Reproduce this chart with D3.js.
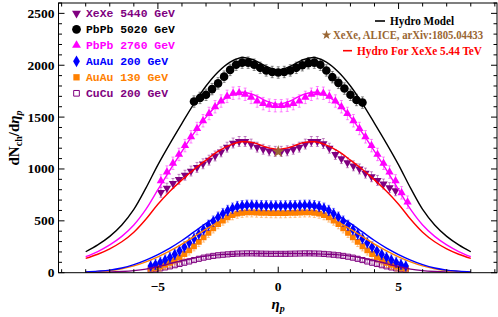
<!DOCTYPE html>
<html><head><meta charset="utf-8">
<script src="https://cdn.jsdelivr.net/npm/d3@7"></script>
<style>body{margin:0;background:#fff}svg{display:block}</style>
</head><body>
<svg id="c" width="498" height="317"></svg>
<script>
// ---------------- DATA ----------------
const etaHydro = [-8,-7.5,-7,-6.5,-6,-5.5,-5,-4.5,-4,-3.5,-3,-2.5,-2,-1.5,-1,-0.5,0,0.5,1,1.5,2,2.5,3,3.5,4,4.5,5,5.5,6,6.5,7,7.5,8];
const hydroPbPb5020 = [202,268,350,460,610,815,1040,1245,1440,1630,1800,1935,2030,2075,2050,1990,1955,1990,2050,2075,2030,1935,1800,1630,1440,1245,1040,815,610,460,350,268,202];
const hydroPbPb2760 = [154,204,268,350,460,610,800,990,1170,1345,1500,1625,1708,1740,1715,1655,1625,1655,1715,1740,1708,1625,1500,1345,1170,990,800,610,460,350,268,204,154];
const hydroXeXe5440 = [138,178,230,298,390,515,660,785,895,995,1085,1170,1230,1262,1252,1210,1190,1210,1252,1262,1230,1170,1085,995,895,785,660,515,390,298,230,178,138];
const hydroAuAu200  = [8,15,25,45,78,122,175,237,310,393,475,545,600,630,645,648,650,648,645,630,600,545,475,393,310,237,175,122,78,45,25,15,8];
const hydroAuAu130  = [6,12,21,38,66,105,153,210,275,348,420,485,535,565,578,582,583,582,578,565,535,485,420,348,275,210,153,105,66,38,21,12,6];
const hydroCuCu200  = [2,4,7,12,20,34,57,88,118,142,160,172,178,182,184,185,186,185,184,182,178,172,160,142,118,88,57,34,20,12,7,4,2];

const etaPbPb5020 = [-3.5,-3.25,-3,-2.75,-2.5,-2.25,-2,-1.75,-1.5,-1.25,-1,-0.75,-0.5,-0.25,0,0.25,0.5,0.75,1,1.25,1.5,1.75,2,2.25,2.5,2.75,3,3.25,3.5];
const valPbPb5020 = [1650,1685,1715,1770,1825,1890,1955,2005,2025,2025,2005,1975,1950,1935,1930,1935,1950,1975,2000,2020,2025,2005,1950,1885,1830,1775,1715,1665,1640];
const errPbPb5020 = 55;

const etaPbPb2760 = [-4.875,-4.625,-4.375,-4.125,-3.875,-3.625,-3.375,-3.125,-2.875,-2.625,-2.375,-2.125,-1.875,-1.625,-1.375,-1.125,-0.875,-0.625,-0.375,-0.125,0.125,0.375,0.625,0.875,1.125,1.375,1.625,1.875,2.125,2.375,2.625,2.875,3.125,3.375,3.625,3.875,4.125,4.375,4.625,4.875,5.125,5.375];
const valPbPb2760 = [885,970,1055,1140,1225,1310,1390,1465,1535,1600,1655,1700,1730,1735,1720,1690,1655,1630,1615,1610,1610,1615,1630,1655,1690,1720,1735,1730,1700,1655,1600,1535,1465,1390,1310,1225,1140,1055,970,885,770,680];
const errPbPb2760 = 60;

const etaXeXe5440 = [-4.875,-4.625,-4.375,-4.125,-3.875,-3.625,-3.375,-3.125,-2.875,-2.625,-2.375,-2.125,-1.875,-1.625,-1.375,-1.125,-0.875,-0.625,-0.375,-0.125,0.125,0.375,0.625,0.875,1.125,1.375,1.625,1.875,2.125,2.375,2.625,2.875,3.125,3.375,3.625,3.875,4.125,4.375,4.625,4.875];
const valXeXe5440 = [775,815,860,900,940,980,1015,1050,1085,1125,1165,1210,1250,1265,1265,1240,1210,1190,1175,1170,1170,1175,1190,1210,1240,1265,1265,1245,1200,1140,1100,1060,1030,1000,960,925,890,855,820,790];
const errXeXe5440 = 48;

const etaPHOBOS = [-5.3,-5.1,-4.9,-4.7,-4.5,-4.3,-4.1,-3.9,-3.7,-3.5,-3.3,-3.1,-2.9,-2.7,-2.5,-2.3,-2.1,-1.9,-1.7,-1.5,-1.3,-1.1,-0.9,-0.7,-0.5,-0.3,-0.1,0.1,0.3,0.5,0.7,0.9,1.1,1.3,1.5,1.7,1.9,2.1,2.3,2.5,2.7,2.9,3.1,3.3,3.5,3.7,3.9,4.1,4.3,4.5,4.7,4.9,5.1,5.3];
const valAuAu200 = [65,80,100,122,148,178,212,248,288,330,372,415,457,497,535,570,600,622,638,646,650,650,648,646,645,644,644,644,644,645,646,648,650,650,646,638,622,600,570,535,497,457,415,372,330,288,248,212,178,148,122,100,80,65];
const errAuAu200 = 50;
const valAuAu130 = [38,48,60,76,96,120,148,180,215,255,297,340,385,428,468,503,533,555,570,578,582,582,580,578,576,575,574,574,575,576,578,580,582,582,578,570,555,533,503,468,428,385,340,297,255,215,180,148,120,96,76,60,48,38];
const errAuAu130 = 45;
const valCuCu200 = [28,34,42,51,61,72,84,96,108,122,134,145,154,162,168,173,177,181,184,185,186,186,185,184,183,182,182,182,182,183,184,185,186,186,185,184,181,177,173,168,162,154,145,134,122,108,96,84,72,61,51,42,34,28];
const errCuCu200 = 14;

const aliceXeXeEta = [0];
const aliceXeXeVal = [1167];

const xTicksMajor = [-5,0,5];
const yTicksMajor = [0,500,1000,1500,2000,2500];

const legendLabels = ["XeXe 5440 GeV","PbPb 5020 GeV","PbPb 2760 GeV","AuAu 200 GeV","AuAu 130 GeV","CuCu 200 GeV"];
const legend2Labels = ["Hydro Model","XeXe, ALICE, arXiv:1805.04433","Hydro For XeXe 5.44 TeV"];

// ---------------- CHART ----------------
const svg = d3.select("#c");
const L = 58.5, R = 497, T = 3, B = 272.7;
const x = d3.scaleLinear().domain([-9.13, 9.09]).range([L, R]);
const y = d3.scaleLinear().domain([0, 2600]).range([B, T]);

const C = {xe:"#800080", pb5:"#000000", pb2:"#ff00ff", au2:"#0000ff", au1:"#ff8000", cu:"#800080", red:"#ff0000", brown:"#996633"};

const plot = svg.append("g");
plot.append("defs").append("clipPath").attr("id","clip").append("rect")
  .attr("x",L).attr("y",T).attr("width",R-L).attr("height",B-T);
const g = plot.append("g").attr("clip-path","url(#clip)");

function series(eta, vals, err, color, sym, size, rot, open) {
  const d = eta.map((e,i)=>({e, v: vals[i]}));
  const eg = g.append("g").attr("stroke", color).attr("stroke-opacity",0.5).attr("stroke-width",0.9);
  d.forEach(p=>{
    eg.append("line").attr("x1",x(p.e)).attr("x2",x(p.e)).attr("y1",y(p.v-err)).attr("y2",y(p.v+err));
    eg.append("line").attr("x1",x(p.e)-1.5).attr("x2",x(p.e)+1.5).attr("y1",y(p.v-err)).attr("y2",y(p.v-err));
    eg.append("line").attr("x1",x(p.e)-1.5).attr("x2",x(p.e)+1.5).attr("y1",y(p.v+err)).attr("y2",y(p.v+err));
  });
  const s = d3.symbol().type(sym).size(size);
  g.append("g").selectAll("path").data(d).join("path")
    .attr("d", s)
    .attr("transform", p=>`translate(${x(p.e)},${y(p.v)}) rotate(${rot})`)
    .attr("fill", open ? "none" : color)
    .attr("stroke", open ? color : "none")
    .attr("stroke-width", 1);
}

series(etaPHOBOS, valCuCu200, errCuCu200, C.cu, d3.symbolSquare, 26, 0, true);
series(etaPHOBOS, valAuAu130, errAuAu130, C.au1, d3.symbolSquare, 34, 0, false);
series(etaPHOBOS, valAuAu200, errAuAu200, C.au2, d3.symbolDiamond, 34, 0, false);
series(etaXeXe5440, valXeXe5440, errXeXe5440, C.xe, d3.symbolTriangle, 30, 180, false);
series(etaPbPb2760, valPbPb2760, errPbPb2760, C.pb2, d3.symbolTriangle, 30, 0, false);
series(etaPbPb5020, valPbPb5020, errPbPb5020, C.pb5, d3.symbolCircle, 58, 0, false);

const line = d3.line().x((d,i)=>x(etaHydro[i])).y(d=>y(d)).curve(d3.curveCatmullRom.alpha(0.5));
[[hydroCuCu200,C.cu],[hydroAuAu130,C.au1],[hydroAuAu200,C.au2],[hydroXeXe5440,C.red],[hydroPbPb2760,C.pb2],[hydroPbPb5020,C.pb5]]
  .forEach(([v,c])=>g.append("path").attr("d",line(v)).attr("fill","none").attr("stroke",c).attr("stroke-width",1.4));

g.selectAll("path.star").data(aliceXeXeEta).join("path").attr("class","star")
  .attr("d", d3.symbol().type(d3.symbolStar).size(50))
  .attr("transform",(e,i)=>`translate(${x(e)},${y(aliceXeXeVal[i])})`)
  .attr("fill", C.brown);

// frame & ticks
const fr = svg.append("g").attr("stroke","#000").attr("stroke-width",1);
fr.append("rect").attr("x",L).attr("y",T).attr("width",R-L).attr("height",B-T).attr("fill","none");
const xMinor = d3.range(-9, 10, 1);
xMinor.forEach(t=>{
  const len = xTicksMajor.includes(t) ? 6 : 3.5;
  fr.append("line").attr("x1",x(t)).attr("x2",x(t)).attr("y1",B).attr("y2",B-len);
  fr.append("line").attr("x1",x(t)).attr("x2",x(t)).attr("y1",T).attr("y2",T+len);
});
const yMinor = d3.range(0, 2601, 100);
yMinor.forEach(t=>{
  const len = yTicksMajor.includes(t) ? 6 : 3.5;
  fr.append("line").attr("x1",L).attr("x2",L+len).attr("y1",y(t)).attr("y2",y(t));
  fr.append("line").attr("x1",R).attr("x2",R-len).attr("y1",y(t)).attr("y2",y(t));
});

const tf = "'Liberation Serif','Times New Roman',serif";
svg.append("g").selectAll("text").data(yTicksMajor).join("text")
  .attr("x", L-4).attr("y", d=>y(d)+4.5).attr("text-anchor","end")
  .attr("font-family",tf).attr("font-weight","bold").attr("font-size",13.5).text(d=>d);
svg.append("g").selectAll("text").data(xTicksMajor).join("text")
  .attr("x", d=>x(d)).attr("y", 291).attr("text-anchor","middle")
  .attr("font-family",tf).attr("font-weight","bold").attr("font-size",13.5)
  .text(d=> d<0 ? "\u2212"+Math.abs(d) : d);

// axis labels
const yl = svg.append("text").attr("transform","translate(19,138) rotate(-90)")
  .attr("text-anchor","middle").attr("font-family",tf).attr("font-weight","bold").attr("font-size",15);
yl.append("tspan").text("dN");
yl.append("tspan").attr("font-size",10).attr("dy",3).text("ch");
yl.append("tspan").attr("dy",-3).text("/d");
yl.append("tspan").attr("font-style","italic").text("\u03b7");
yl.append("tspan").attr("font-size",10).attr("font-style","italic").attr("dy",3).text("p");

const xl = svg.append("text").attr("x",x(0)).attr("y",309).attr("text-anchor","middle")
  .attr("font-family",tf).attr("font-weight","bold").attr("font-size",15).attr("font-style","italic");
xl.append("tspan").text("\u03b7");
xl.append("tspan").attr("font-size",10).attr("dy",3).text("p");

// legend 1
const leg = svg.append("g");
const legCols = [C.xe, C.pb5, C.pb2, C.au2, C.au1, C.cu];
const legSym = [[d3.symbolTriangle,34,180,false],[d3.symbolCircle,60,0,false],[d3.symbolTriangle,34,0,false],[d3.symbolDiamond,40,0,false],[d3.symbolSquare,40,0,false],[d3.symbolSquare,32,0,true]];
legendLabels.forEach((lab,i)=>{
  const yy = 13.3 + i*16;
  const [t,s,r,o] = legSym[i];
  leg.append("path").attr("d", d3.symbol().type(t).size(s)())
    .attr("transform",`translate(76.5,${yy}) rotate(${r})`)
    .attr("fill", o ? "none" : legCols[i]).attr("stroke", o ? legCols[i] : "none");
  leg.append("text").attr("x",86).attr("y",yy+4).attr("fill",legCols[i])
    .attr("font-family","'Liberation Mono','Courier New',monospace").attr("font-weight","bold")
    .attr("font-size",11.4).attr("xml:space","preserve").text(lab);
});

// legend 2
const l2 = svg.append("g").attr("font-family",tf).attr("font-weight","bold").attr("font-size",11.5);
l2.append("line").attr("x1",375).attr("x2",385).attr("y1",21).attr("y2",21).attr("stroke","#000").attr("stroke-width",1.6);
l2.append("text").attr("x",390).attr("y",25).attr("fill","#000")
  .attr("textLength",64).attr("lengthAdjust","spacingAndGlyphs").text(legend2Labels[0]);
l2.append("path").attr("d",d3.symbol().type(d3.symbolStar).size(28)()).attr("transform","translate(326.5,35)").attr("fill",C.brown);
l2.append("text").attr("x",333).attr("y",39).attr("fill",C.brown)
  .attr("textLength",150).attr("lengthAdjust","spacingAndGlyphs").text(legend2Labels[1]);
l2.append("line").attr("x1",343).attr("x2",352).attr("y1",50.7).attr("y2",50.7).attr("stroke",C.red).attr("stroke-width",1.6);
l2.append("text").attr("x",357).attr("y",55).attr("fill",C.red)
  .attr("textLength",125).attr("lengthAdjust","spacingAndGlyphs").text(legend2Labels[2]);
</script>
</body></html>
